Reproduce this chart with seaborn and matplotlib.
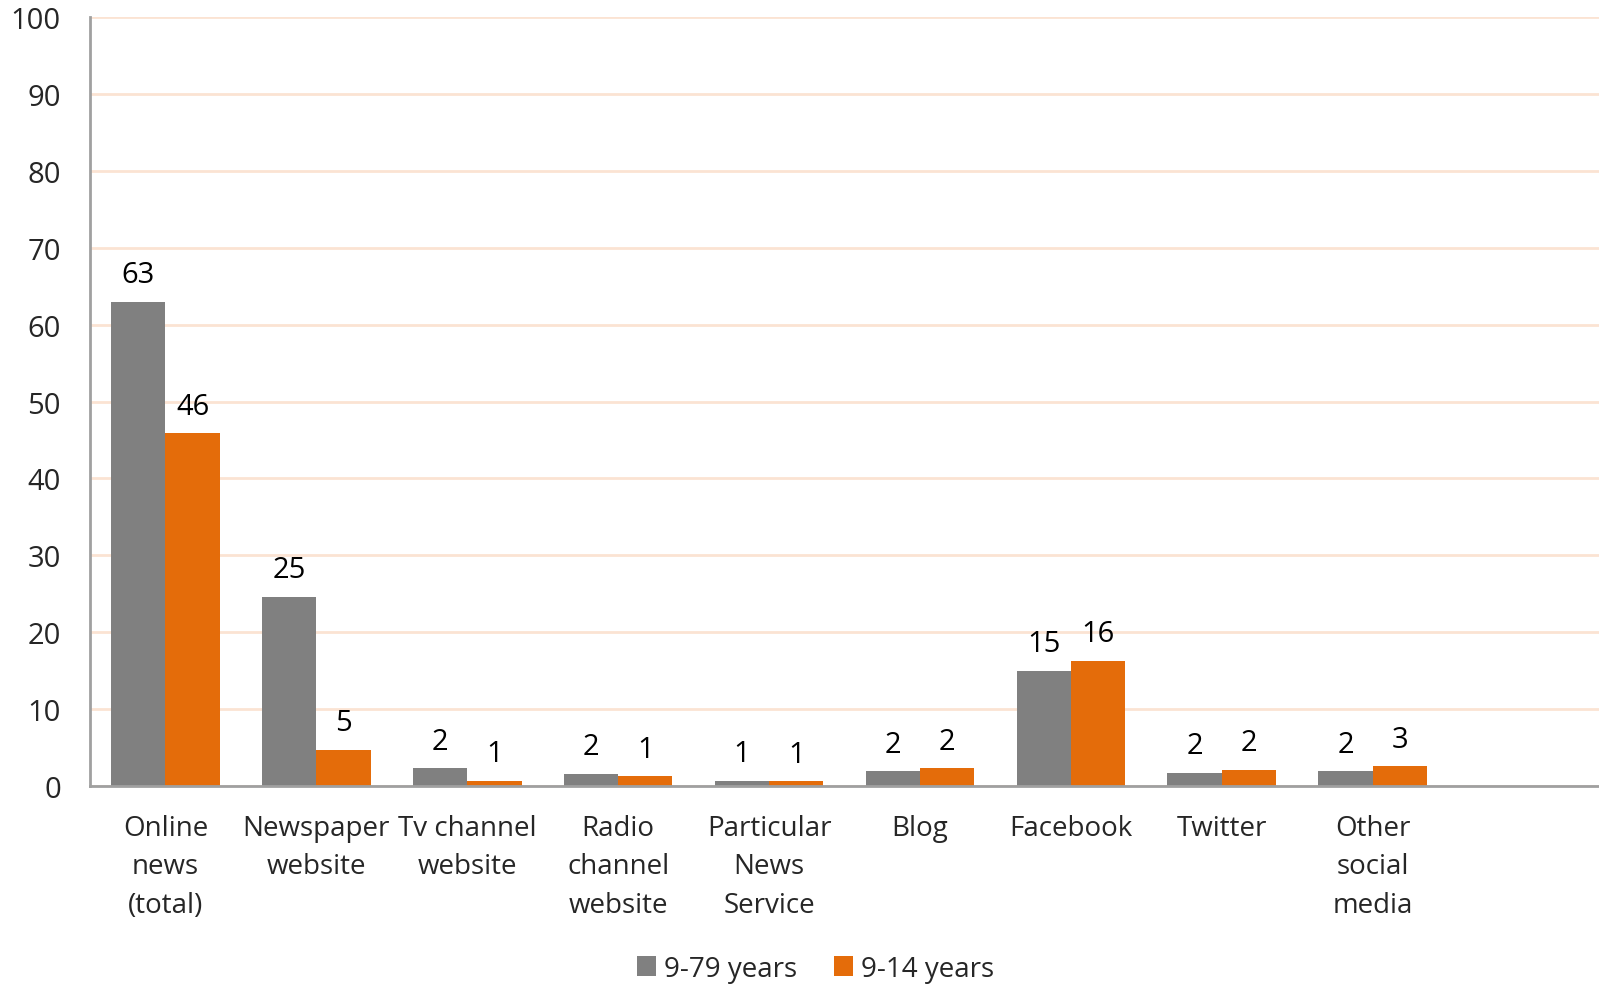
import matplotlib
matplotlib.use("Agg")
import matplotlib.pyplot as plt
import seaborn as sns
import pandas as pd
from matplotlib.patches import Patch

categories = [
    "Online\nnews\n(total)",
    "Newspaper\nwebsite",
    "Tv channel\nwebsite",
    "Radio\nchannel\nwebsite",
    "Particular\nNews\nService",
    "Blog",
    "Facebook",
    "Twitter",
    "Other\nsocial\nmedia",
]
series_names = ["9-79 years", "9-14 years"]
all_ages = [63.0, 24.6, 2.3, 1.6, 0.7, 1.9, 15.0, 1.7, 1.9]
young = [45.9, 4.7, 0.7, 1.3, 0.6, 2.3, 16.3, 2.1, 2.6]
y_ticks = [0, 10, 20, 30, 40, 50, 60, 70, 80, 90, 100]

colors = ["#808080", "#E46C0A"]

df = pd.DataFrame({
    "category": categories * 2,
    "group": [series_names[0]] * len(categories) + [series_names[1]] * len(categories),
    "value": all_ages + young,
})

sns.set_theme(style="white")
plt.rcParams["font.family"] = ["Open Sans", "DejaVu Sans"]

fig = plt.figure(figsize=(15.99, 9.87), dpi=100)
ax = fig.add_axes([90 / 1599, 1 - 787 / 987, 1 - 90 / 1599, (787 - 18) / 987])

sns.barplot(
    data=df, x="category", y="value", hue="group",
    order=categories, hue_order=series_names,
    palette=colors, width=0.72, saturation=1, ax=ax, legend=False,
)

for container in ax.containers:
    ax.bar_label(container, fmt="%.0f", padding=9, fontsize=21, color="black")
    for bar in container:
        bar.set_edgecolor("none")

ax.set_xlim(-0.5, 9.5)
ax.set_ylim(0, 100)
ax.set_yticks(y_ticks)
ax.set_yticklabels([str(t) for t in y_ticks], fontsize=21)
ax.set_xlabel("")
ax.set_ylabel("")
ax.tick_params(axis="y", length=0, pad=21)
ax.tick_params(axis="x", length=0, pad=20, labelsize=20)
for lbl in ax.get_xticklabels():
    lbl.set_linespacing(1.5)

ax.yaxis.grid(True, color="#FBE3D3", linewidth=2)
ax.set_axisbelow(True)
for side in ["top", "right"]:
    ax.spines[side].set_visible(False)
ax.spines["left"].set_color("#A0A0A0")
ax.spines["left"].set_linewidth(2)
ax.spines["bottom"].set_color("#A0A0A0")
ax.spines["bottom"].set_linewidth(2)

handles = [Patch(facecolor=c, edgecolor="none") for c in colors]
fig.legend(
    handles, series_names, loc="lower center", bbox_to_anchor=(0.51, -0.022),
    ncol=2, frameon=False, fontsize=20, handlelength=0.7, handleheight=0.7,
    handletextpad=0.3, columnspacing=1.3,
)

fig.savefig("out.png", dpi=100)
